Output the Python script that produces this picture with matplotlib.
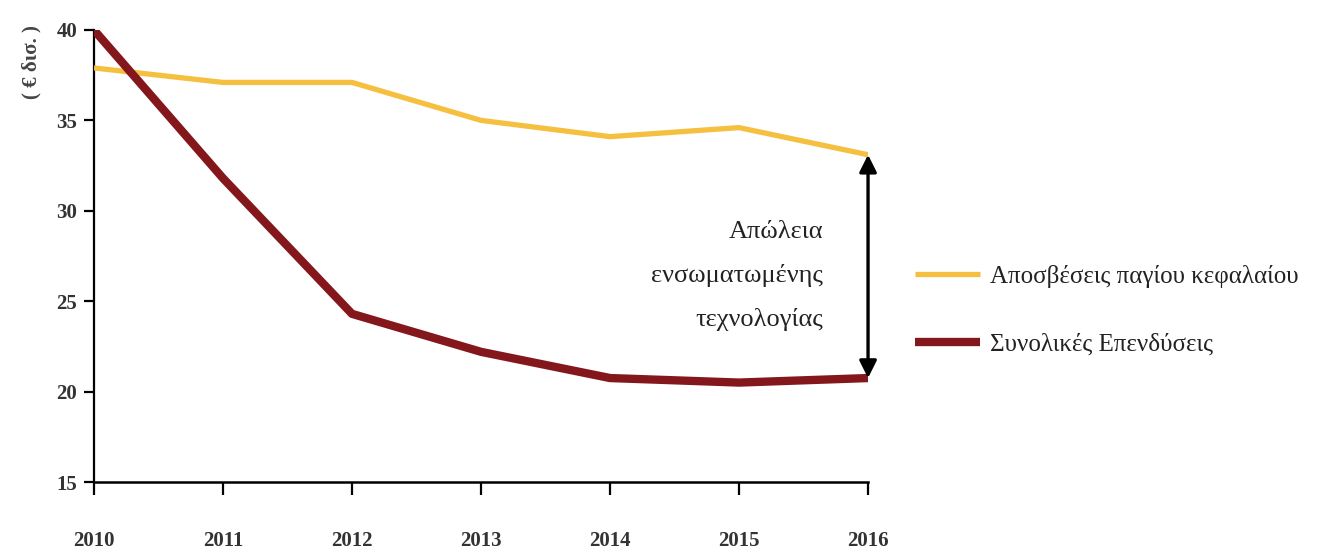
import matplotlib.pyplot as plt
import numpy as np

years = [2010, 2011, 2012, 2013, 2014, 2015, 2016]
apostheseis = [37.9, 37.1, 37.1, 35.0, 34.1, 34.6, 33.1]
ependyseis = [40.0, 31.8, 24.3, 22.2, 20.75, 20.5, 20.75]
yticks = [15, 20, 25, 30, 35, 40]

plt.rcParams['font.family'] = ['Liberation Serif', 'DejaVu Serif']

fig = plt.figure(figsize=(13.18, 5.55), dpi=100)
ax = fig.add_axes([0.0713, 0.1315, 0.5873, 0.8145])

ax.plot(years, apostheseis, color='#F5C040', lw=3.8, label='Αποσβέσεις παγίου κεφαλαίου',
        solid_capstyle='butt', zorder=3)
ax.plot(years, ependyseis, color='#84171C', lw=6, label='Συνολικές Επενδύσεις',
        solid_capstyle='butt', zorder=4)

# double arrow at the last year
ax.annotate('', xy=(years[-1], apostheseis[-1]), xytext=(years[-1], ependyseis[-1]),
            arrowprops=dict(arrowstyle='<|-|>', color='black', lw=2.4,
                            mutation_scale=26, shrinkA=0, shrinkB=0), zorder=5)
ax.text(2015.65, 26.4, 'Απώλεια\nενσωματωμένης\nτεχνολογίας',
        ha='right', va='center', fontsize=19, linespacing=2.15, color='#222222')

ax.set_xlim(2010, 2016)
ax.set_ylim(15, 40)
ax.set_xticks(years)
ax.set_yticks(yticks)
ax.spines['top'].set_visible(False)
ax.spines['right'].set_visible(False)
ax.spines['left'].set_linewidth(1.6)
ax.spines['bottom'].set_linewidth(1.8)
ax.tick_params(axis='x', direction='out', length=9, width=1.6, pad=26, labelsize=15)
ax.tick_params(axis='y', direction='out', length=7, width=1.6, pad=5, labelsize=15)
for lab in ax.get_xticklabels() + ax.get_yticklabels():
    lab.set_color('#333333')
    lab.set_fontweight('semibold')

fig.text(0.024, 0.955, '( € δισ. )', rotation=90, ha='center', va='top', fontsize=15,
         fontweight='bold', color='#444444')

leg = ax.legend(loc='center left', bbox_to_anchor=(0.677, 0.441), bbox_transform=fig.transFigure,
                frameon=False, fontsize=18, handlelength=2.6, handletextpad=0.4,
                labelspacing=1.8)
for t in leg.get_texts():
    t.set_color('#222222')

fig.savefig('out.png', dpi=100)
